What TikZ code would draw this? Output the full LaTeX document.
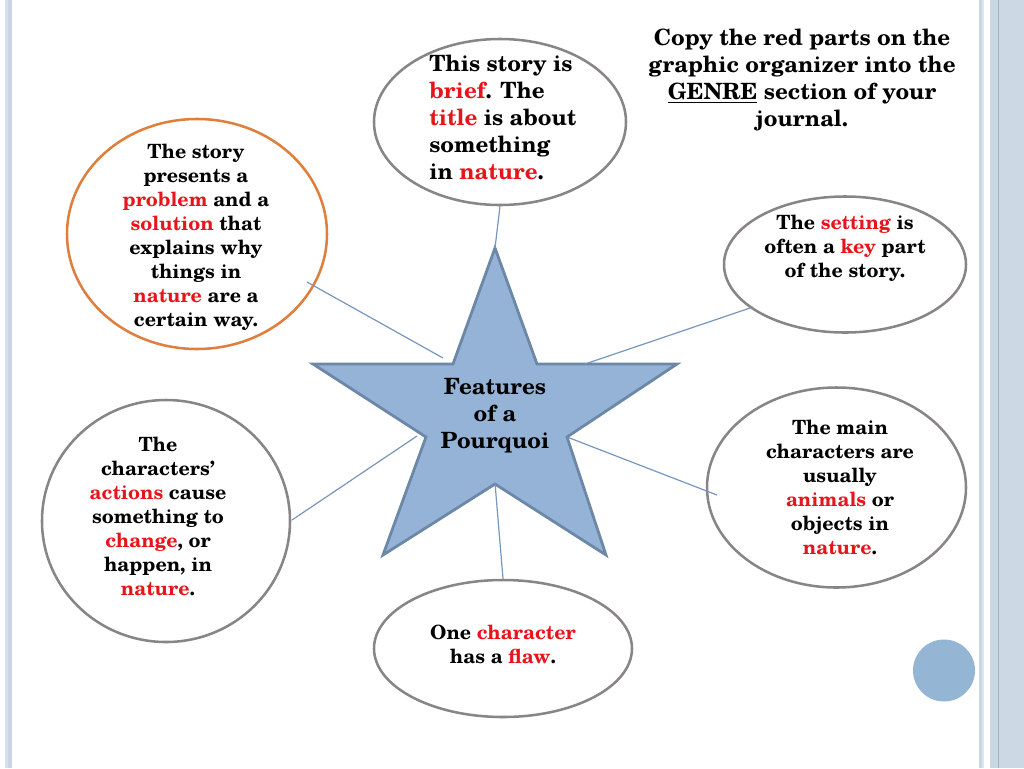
\documentclass[tikz,border=0pt]{standalone}
\usepackage{fontspec}
\setmainfont{texgyreschola}[Extension=.otf, UprightFont=*-regular, BoldFont=*-bold, ItalicFont=*-italic, BoldItalicFont=*-bolditalic]
\usetikzlibrary{shapes.geometric}
\definecolor{rd}{HTML}{E8141B}
\definecolor{starfill}{HTML}{95B3D7}
\definecolor{stardraw}{HTML}{6C88A6}
\definecolor{conn}{HTML}{7696BE}
\definecolor{bubgray}{HTML}{8A8585}
\definecolor{bubor}{HTML}{DF7F3E}
\definecolor{dotblue}{HTML}{94B6D4}
\newcommand{\rw}[1]{\textcolor{rd}{#1}}
\tikzset{
  bub/.style={ellipse, draw=bubgray, line width=1.9pt, inner sep=0pt},
  bubo/.style={ellipse, draw=bubor, line width=1.9pt, inner sep=0pt},
  lnk/.style={draw=conn, line width=0.9pt},
  txt/.style={inner sep=0pt, align=center, text=black},
  bigt/.style={font=\fontsize{16.8}{20.25}\selectfont\bfseries},
  smt/.style={font=\fontsize{14.7}{18}\selectfont\bfseries}
}
\begin{document}
\begin{tikzpicture}[x=0.75pt,y=-0.75pt]
\useasboundingbox (0,0) rectangle (1024,768);
% border stripes
\fill[color={rgb,255:red,213;green,222;blue,234}] (5,0) rectangle (7.5,768);
\fill[color={rgb,255:red,203;green,211;blue,232}] (7.5,0) rectangle (12,768);
\fill[color={rgb,255:red,200;green,214;blue,226}] (979,0) rectangle (982,768);
\fill[color={rgb,255:red,221;green,230;blue,238}] (982,0) rectangle (984,768);
\fill[color={rgb,255:red,202;green,216;blue,228}] (990,0) rectangle (997.7,768);
\fill[color={rgb,255:red,163;green,179;blue,195}] (997.7,0) rectangle (999,768);
\fill[color={rgb,255:red,204;green,217;blue,229}] (999,0) rectangle (1024,768);
% star
\coordinate (sTop) at (495,248);
\coordinate (sUL) at (453,364);
\coordinate (sL) at (313,364);
\coordinate (sLL) at (426,437);
\coordinate (sBL) at (383,555);
\coordinate (sB) at (495,484);
\coordinate (sBR) at (606,555);
\coordinate (sLR) at (567,437);
\coordinate (sR) at (677,364);
\coordinate (sUR) at (537,364);
\draw[fill=starfill, draw=stardraw, line width=2.1pt, line join=miter]
  (sTop) -- (sUR) -- (sR) -- (sLR) -- (sBR) -- (sB) -- (sBL) -- (sLL) -- (sL) -- (sUL) -- cycle;
\node[txt, bigt] (star) at (495,416) {Features\\of a\\Pourquoi};
% bubbles
\node[bub, minimum width=189pt, minimum height=124.5pt] (e1) at (500,122) {};
\node[bubo, minimum width=195pt, minimum height=172.5pt] (e2) at (197,234) {};
\node[bub, minimum width=181.5pt, minimum height=102pt] (e3) at (845,264.5) {};
\node[bub, minimum width=194.25pt, minimum height=150pt] (e4) at (836.5,487.5) {};
\node[bub, minimum width=186pt, minimum height=181.5pt] (e5) at (166,521) {};
\node[bub, minimum width=193.5pt, minimum height=102.75pt] (e6) at (503,648.5) {};
% texts
\node[txt, bigt, align=left, anchor=west] (t1) at (429,117) {This story is\\\rw{brief}. The\\\rw{title} is about\\something\\in \rw{nature}.};
\node[txt, smt] (t2) at (196,237) {The story\\presents a\\\rw{problem} and a\\\rw{solution} that\\explains why\\things in\\\rw{nature} are a\\certain way.};
\node[txt, smt] (t3) at (845,248) {The \rw{setting} is\\often a \rw{key} part\\of the story.};
\node[txt, smt] (t4) at (840,487.5) {The main\\characters are\\usually\\\rw{animals} or\\objects in\\\rw{nature}.};
\node[txt, smt] (t5) at (158,516) {The\\characters’\\\rw{actions} cause\\something to\\\rw{change}, or\\happen, in\\\rw{nature}.};
\node[txt, smt] (t6) at (503,644.5) {One \rw{character}\\has a \rw{flaw}.};
\node[txt, bigt] (copy) at (802,80.5) {Copy the red parts on the\\graphic organizer into the\\\underline{GENRE} section of your\\journal.};
% connector ends
\coordinate (c2) at (307,282);
\coordinate (c3) at (753,307);
\coordinate (c4) at (717,495);
\coordinate (c5) at (292,520);
\coordinate (sUR2) at (585,364);
\coordinate (sUL2) at (443,358);
\coordinate (sLL2) at (417,436);
\coordinate (sB2) at (495,483);
\draw[lnk] (e1.south) -- (sTop);
\draw[lnk] (c2) -- (sUL2);
\draw[lnk] (c3) -- (sUR2);
\draw[lnk] (sLR) -- (c4);
\draw[lnk] (sLL2) -- (c5);
\draw[lnk] (sB2) -- (e6.north);
% dot
\node[circle, fill=dotblue, minimum size=46.5pt, inner sep=0pt] (dot) at (944,670.5) {};
\end{tikzpicture}
\end{document}
